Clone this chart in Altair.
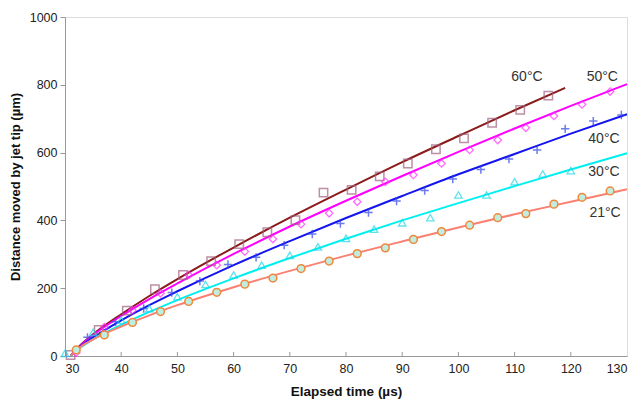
import altair as alt
import pandas as pd

# ---- fitted curves ----
line_x = [31, 33, 35, 40, 45, 50, 60, 70, 80, 90, 100, 110, 120, 130]
line_x60 = [31, 33, 35, 40, 45, 50, 60, 70, 80, 90, 100, 110, 119]
fit_60 = [0, 36, 64, 123, 177, 227, 320, 408, 491, 572, 649, 725, 791]
fit_50 = [0, 35, 62, 118, 168, 214, 301, 382, 458, 531, 602, 671, 738, 802]
fit_40 = [0, 32, 55, 105, 150, 191, 268, 339, 407, 472, 536, 596, 656, 713]
fit_30 = [0, 28, 49, 92, 130, 165, 229, 289, 346, 400, 451, 501, 550, 598]
fit_21 = [0, 30, 49, 87, 120, 150, 203, 251, 296, 338, 379, 418, 455, 492]

# ---- measured points ----
sq_x = [31, 36, 41, 46, 51, 56, 61, 66, 71, 76, 81, 86, 91, 96, 101, 106, 111, 116]
sq_y = [3, 77, 134, 197, 239, 280, 330, 365, 401, 482, 490, 530, 568, 610, 642, 688, 726, 768]
dm_x = [32, 37, 42, 47, 52, 57, 62, 67, 72, 77, 82, 87, 92, 97, 102, 107, 112, 117, 122, 127]
dm_y = [10, 85, 135, 185, 239, 268, 308, 345, 389, 421, 455, 514, 534, 568, 608, 637, 673, 708, 742, 780]
pl_x = [34, 39, 44, 49, 54, 59, 64, 69, 74, 79, 84, 89, 94, 99, 104, 109, 114, 119, 124, 129]
pl_y = [55, 101, 140, 187, 221, 270, 291, 327, 360, 391, 423, 457, 488, 522, 550, 581, 608, 670, 693, 711]
tr_x = [30, 35, 40, 45, 50, 55, 60, 65, 70, 75, 80, 85, 90, 95, 100, 105, 110, 115, 120]
tr_y = [8, 70, 106, 140, 175, 211, 239, 268, 297, 322, 347, 374, 393, 408, 475, 475, 514, 537, 547]
ci_x = [32, 37, 42, 47, 52, 57, 62, 67, 72, 77, 82, 87, 92, 97, 102, 107, 112, 117, 122, 127]
ci_y = [18, 62, 99, 131, 161, 188, 212, 230, 258, 280, 302, 319, 344, 367, 386, 408, 420, 448, 468, 487]

series = ["60°C", "50°C", "40°C", "30°C", "21°C"]
line_colors = ["#8B1A1A", "#FF00FF", "#1414F0", "#00F0F0", "#FA8072"]

label_text = ["60°C", "50°C", "40°C", "30°C", "21°C"]
label_x = [112.2, 125.6, 125.9, 125.9, 126.1]
label_y = [823, 823, 640, 543, 422]

x_ticks = [40, 50, 60, 70, 80, 90, 100, 110, 120]

W, H = 562, 339
FONT = "Liberation Sans"

lines = pd.concat([
    pd.DataFrame({"t": line_x60, "d": fit_60, "s": "60°C"}),
    pd.DataFrame({"t": line_x, "d": fit_50, "s": "50°C"}),
    pd.DataFrame({"t": line_x, "d": fit_40, "s": "40°C"}),
    pd.DataFrame({"t": line_x, "d": fit_30, "s": "30°C"}),
    pd.DataFrame({"t": line_x, "d": fit_21, "s": "21°C"}),
])

xs = alt.Scale(domain=[30, 130], nice=False, zero=False)
ys = alt.Scale(domain=[0, 1000], nice=False)

X = alt.X("t:Q", scale=xs, title="Elapsed time (µs)",
          axis=alt.Axis(values=list(range(30, 131, 10)), format="d", tickSize=0, labelPadding=6,
                        grid=False, domainColor="#999", titleFont=FONT, titleFontSize=13.5,
                        titleFontWeight="bold", titleColor="#111", titlePadding=10,
                        labelFont=FONT, labelFontSize=12.5, labelColor="#222"))
Y = alt.Y("d:Q", scale=ys, title="Distance moved by jet tip (µm)",
          axis=alt.Axis(values=list(range(0, 1001, 200)), format="d", tickSize=5, tickColor="#999",
                        labelPadding=3, grid=False, domainColor="#999",
                        titleFont=FONT, titleFontSize=13, titleFontWeight="bold",
                        titleColor="#111", titlePadding=7,
                        labelFont=FONT, labelFontSize=12.5, labelColor="#222"))

line_layer = alt.Chart(lines).mark_line(strokeWidth=2, interpolate="monotone").encode(
    x=X, y=Y,
    color=alt.Color("s:N", scale=alt.Scale(domain=series, range=line_colors), legend=None),
    detail="s:N",
)

def pts(xv, yv):
    return pd.DataFrame({"t": xv, "d": yv})

plus_path = "M-1,0L1,0M0,-1L0,1"

sq = alt.Chart(pts(sq_x, sq_y)).mark_point(shape="square", size=70, filled=False,
                                            stroke="#A0607F", strokeWidth=1.5).encode(x="t:Q", y="d:Q")
dm = alt.Chart(pts(dm_x, dm_y)).mark_point(shape="diamond", size=55, filled=False,
                                            stroke="#FF2EFF", strokeWidth=1.3).encode(x="t:Q", y="d:Q")
pl = alt.Chart(pts(pl_x, pl_y)).mark_point(shape=plus_path, size=70, filled=False,
                                            stroke="#2F46E8", strokeWidth=1.5).encode(x="t:Q", y="d:Q")
tr = alt.Chart(pts(tr_x, tr_y)).mark_point(shape="triangle-up", size=55, filled=False,
                                            stroke="#1ED6E6", strokeWidth=1.3).encode(x="t:Q", y="d:Q")
ci = alt.Chart(pts(ci_x, ci_y)).mark_point(shape="circle", size=60, filled=True, opacity=1,
                                            fill="#BFEDE0", stroke="#F0883A", strokeWidth=1.5).encode(x="t:Q", y="d:Q")

labels = alt.Chart(pd.DataFrame({"t": label_x, "d": label_y, "txt": label_text})).mark_text(
    font=FONT, fontSize=14, color="#333", align="center", baseline="middle"
).encode(x="t:Q", y="d:Q", text="txt:N")

ticks = alt.Chart(pd.DataFrame({"t": x_ticks})).mark_rule(color="#999", strokeWidth=1).encode(
    x="t:Q", y=alt.value(H), y2=alt.value(H - 4)
)

chart = alt.layer(line_layer, ticks, sq, dm, pl, tr, ci, labels).properties(
    width=W, height=H,
    autosize=alt.AutoSizeParams(type="none"),
    padding={"left": 65, "top": 17, "right": 8, "bottom": 47},
).configure_view(stroke="#aaa", strokeWidth=1).configure(background="white")

chart.save("out.html", embed_options={"renderer": "svg", "actions": False})
